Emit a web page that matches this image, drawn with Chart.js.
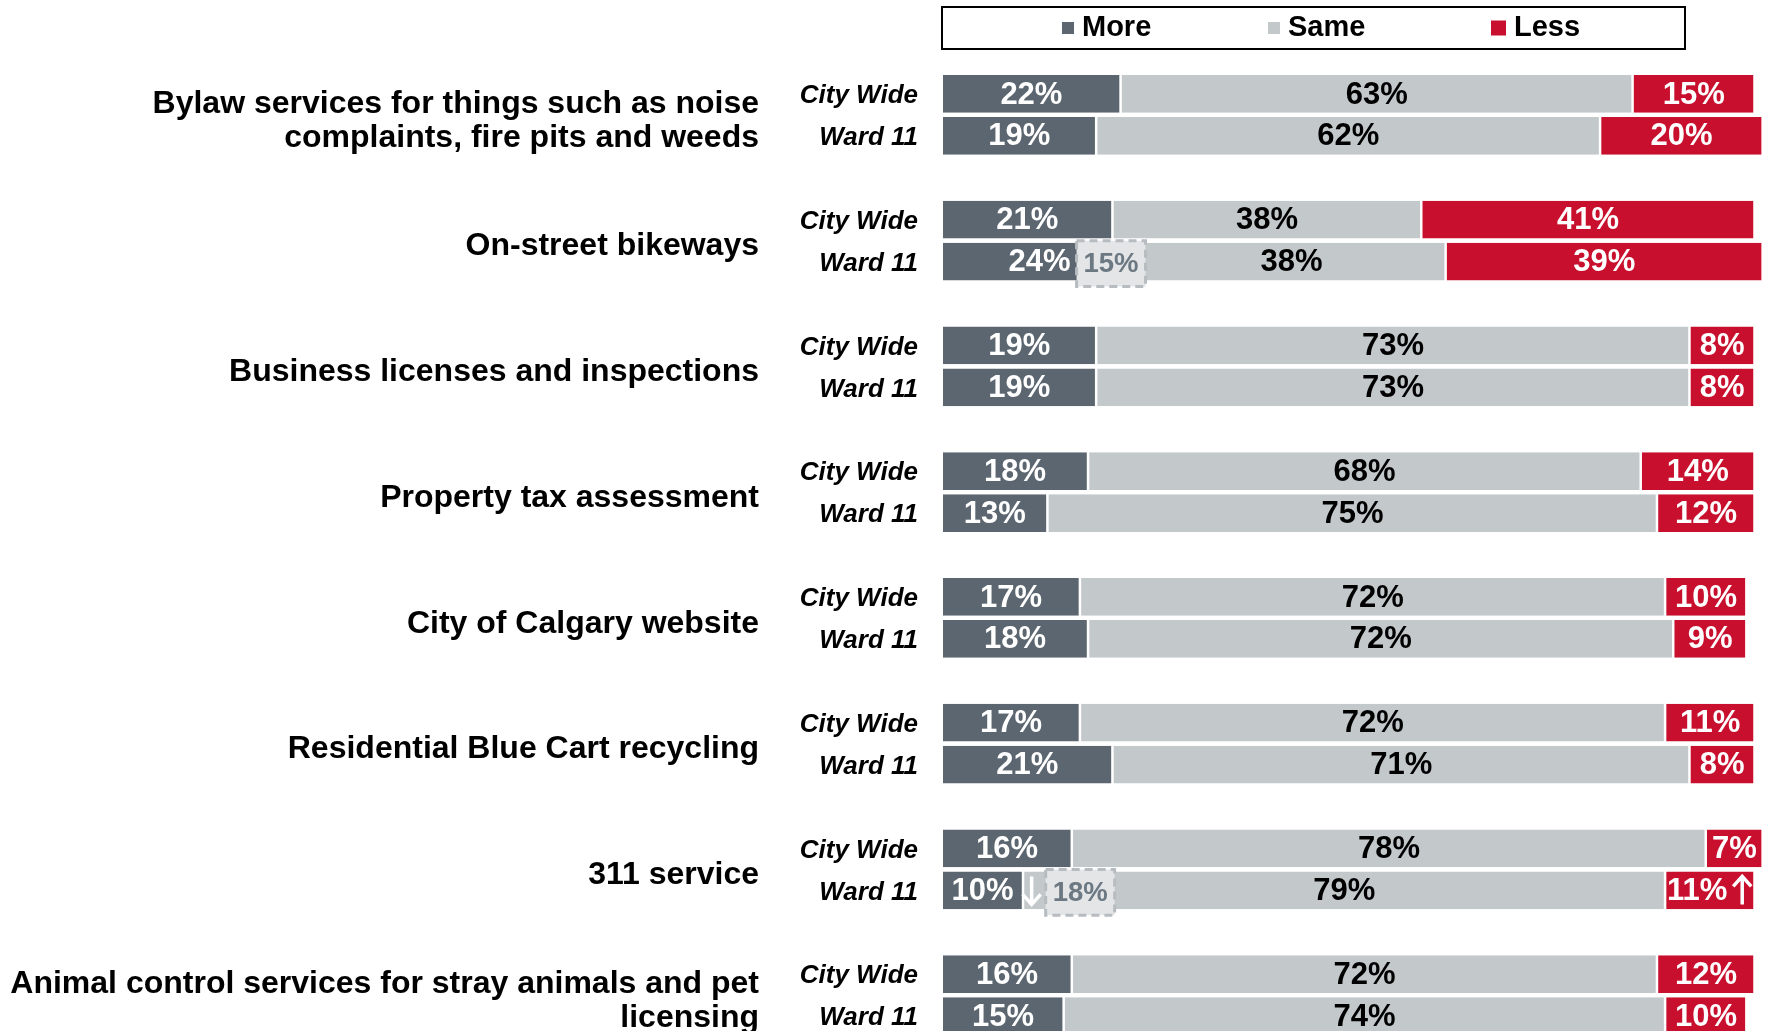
<!DOCTYPE html>
<html lang="en">
  <head>
    <meta charset="UTF-8" />
    <title>More / Same / Less</title>
    <script src="https://cdn.jsdelivr.net/npm/chart.js@4.4.1/dist/chart.umd.min.js"></script>
    <style>
      html, body { margin: 0; padding: 0; background: #fff; overflow: hidden; }
      #wrap { width: 1777px; height: 1031px; overflow: hidden; }
    </style>
  </head>
  <body>
    <div id="wrap"><canvas id="chart" width="1777" height="1079"></canvas></div>
    <script>
      // groups (left labels, one array item per text line)
      const groups = [
        ["Bylaw services for things such as noise", "complaints, fire pits and weeds"],
        ["On-street bikeways"],
        ["Business licenses and inspections"],
        ["Property tax assessment"],
        ["City of Calgary website"],
        ["Residential Blue Cart recycling"],
        ["311 service"],
        ["Animal control services for stray animals and pet", "licensing"],
      ];
      const rowNames = ["City Wide", "Ward 11"];
      const seriesNames = ["More", "Same", "Less"];
      const colors = ["#5b6670", "#c3c8cb", "#c8102e"];
      const labelColors = ["#ffffff", "#000000", "#ffffff"];

      const cityMore = [22, 21, 19, 18, 17, 17, 16, 16];
      const citySame = [63, 38, 73, 68, 72, 72, 78, 72];
      const cityLess = [15, 41, 8, 14, 10, 11, 7, 12];
      const wardMore = [19, 24, 19, 13, 18, 21, 10, 15];
      const wardSame = [62, 38, 73, 75, 72, 71, 79, 74];
      const wardLess = [20, 39, 8, 12, 9, 8, 11, 10];

      // previous result boxes and change arrows on the Ward 11 rows
      const wardPriorMore = [null, 15, null, null, null, null, 18, null];
      const wardArrowMore = ["", "", "", "", "", "", "down", ""];
      const wardArrowLess = ["", "", "", "", "", "", "up", ""];

      // one slot per row + an empty slot after each group
      const labels = [];
      const slotGroup = [];
      const slotRow = [];
      groups.forEach((g, gi) => {
        labels.push(rowNames[0], rowNames[1], "");
        slotGroup.push(gi, gi, gi);
        slotRow.push(0, 1, -1);
      });

      function interleave(city, ward) {
        const out = [];
        city.forEach((v, i) => out.push(v, ward[i], null));
        return out;
      }
      const seriesData = [
        interleave(cityMore, wardMore),
        interleave(citySame, wardSame),
        interleave(cityLess, wardLess),
      ];

      const FONT = "'Liberation Sans', Arial, 'DejaVu Sans', sans-serif";

      function drawArrow(ctx, x, cy, dir) {
        // white arrow, about the height of the label text
        const h = 28, hw = 9;
        const top = cy - h / 2, bot = cy + h / 2;
        ctx.save();
        ctx.strokeStyle = "#ffffff";
        ctx.lineWidth = 3.5;
        ctx.beginPath();
        ctx.moveTo(x, top);
        ctx.lineTo(x, bot);
        if (dir === "down") {
          ctx.moveTo(x - hw, bot - hw - 1);
          ctx.lineTo(x, bot);
          ctx.lineTo(x + hw, bot - hw - 1);
        } else {
          ctx.moveTo(x - hw, top + hw + 1);
          ctx.lineTo(x, top);
          ctx.lineTo(x + hw, top + hw + 1);
        }
        ctx.stroke();
        ctx.restore();
      }

      const overlay = {
        id: "overlay",
        afterDatasetsDraw(chart) {
          const ctx = chart.ctx;
          const ys = chart.scales.y;
          ctx.save();
          ctx.textBaseline = "middle";

          // value labels inside segments
          chart.data.datasets.forEach((ds, di) => {
            const meta = chart.getDatasetMeta(di);
            meta.data.forEach((bar, i) => {
              const v = ds.data[i];
              if (v == null) return;
              const p = bar.getProps(["x", "y", "base", "height"], true);
              const cx = (p.x + p.base) / 2;
              const g = slotGroup[i];
              const isWard = slotRow[i] === 1;
              const txt = v + "%";
              ctx.font = "bold 31px " + FONT;
              ctx.fillStyle = labelColors[di];
              let arrow = "";
              if (isWard && di === 0) arrow = wardArrowMore[g];
              if (isWard && di === 2) arrow = wardArrowLess[g];
              const tw = ctx.measureText(txt).width;
              const aw = arrow ? 22 : 0;
              let left;
              if (di === 2 && arrow) left = cx - (tw + aw + 4) / 2;
              else left = cx - tw / 2;
              ctx.textAlign = "left";
              ctx.fillText(txt, left, p.y + 1);
              let end = left + tw;
              if (arrow) {
                const gap = di === 0 ? 7 : 4;
                drawArrow(ctx, end + gap + aw / 2, p.y, arrow);
                end += gap + aw;
              }
              // prior-wave box
              if (isWard && di === 0 && wardPriorMore[g] != null) {
                const bx = end + (arrow ? 3 : 6);
                const by = p.y - p.height / 2 - 2;
                const bw = 69;
                const bh = p.height + 8;
                ctx.fillStyle = "#e3e5e7";
                ctx.fillRect(bx, by, bw, bh);
                ctx.setLineDash([8, 5]);
                ctx.lineWidth = 3;
                ctx.strokeStyle = "#b7bcc1";
                ctx.strokeRect(bx, by, bw, bh);
                ctx.setLineDash([]);
                ctx.font = "bold 27.5px " + FONT;
                ctx.fillStyle = "#6c7882";
                ctx.textAlign = "center";
                ctx.fillText(wardPriorMore[g] + "%", bx + bw / 2, by + bh / 2 + 1);
              }
            });
          });

          // group labels on the left
          ctx.font = "bold 32px " + FONT;
          ctx.fillStyle = "#000";
          ctx.textAlign = "right";
          groups.forEach((lines, gi) => {
            const y0 = ys.getPixelForValue(gi * 3);
            const y1 = ys.getPixelForValue(gi * 3 + 1);
            const mid = (y0 + y1) / 2 + 6;
            const lh = 34;
            lines.forEach((ln, li) => {
              ctx.fillText(ln, 759, mid + (li - (lines.length - 1) / 2) * lh);
            });
          });

          // legend box
          ctx.lineWidth = 2;
          ctx.strokeStyle = "#000";
          ctx.strokeRect(942, 7, 743, 42);
          const sq = [12, 12, 15];
          const sqX = [1062, 1268, 1491];
          ctx.font = "bold 29px " + FONT;
          ctx.textAlign = "left";
          seriesNames.forEach((n, k) => {
            ctx.fillStyle = colors[k];
            ctx.fillRect(sqX[k], 28 - sq[k] / 2, sq[k], sq[k]);
            ctx.fillStyle = "#000";
            ctx.fillText(n, sqX[k] + sq[k] + 8, 28);
          });
          ctx.restore();
        },
      };

      new Chart(document.getElementById("chart"), {
        type: "bar",
        data: {
          labels: labels,
          datasets: seriesNames.map((n, k) => ({
            label: n,
            data: seriesData[k],
            backgroundColor: colors[k],
            borderColor: "#ffffff",
            borderWidth: { left: 1, right: 1.5, top: 0, bottom: 0 },
            borderSkipped: false,
            categoryPercentage: 0.9,
            barPercentage: 1,
          })),
        },
        options: {
          indexAxis: "y",
          responsive: false,
          animation: false,
          devicePixelRatio: 1,
          layout: { padding: { top: 73, bottom: 0, left: 0, right: 6 } },
          scales: {
            x: {
              stacked: true,
              min: 0,
              max: 102,
              display: false,
            },
            y: {
              stacked: true,
              grid: { display: false, drawTicks: false },
              border: { display: false },
              afterFit: (s) => {
                s.width = 942;
                s.paddingTop = 0;
                s.paddingBottom = 0;
              },
              ticks: {
                autoSkip: false,
                padding: 24,
                labelOffset: 2,
                color: "#000",
                font: { family: FONT, size: 26, weight: "bold", style: "italic" },
              },
            },
          },
          plugins: {
            legend: { display: false },
            tooltip: { enabled: false },
          },
        },
        plugins: [overlay],
      });
    </script>
  </body>
</html>
